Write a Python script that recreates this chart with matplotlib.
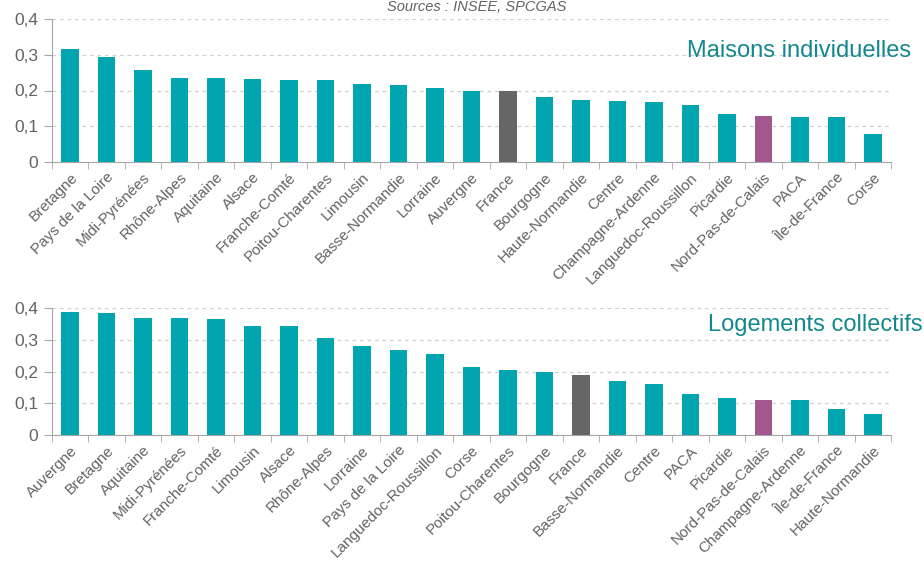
import matplotlib.pyplot as plt
from matplotlib.ticker import FixedLocator, FuncFormatter

plt.rcParams['font.family'] = ['Liberation Sans', 'DejaVu Sans']

# Maisons individuelles
regions_maisons = ["Bretagne", "Pays de la Loire", "Midi-Pyrénées", "Rhône-Alpes",
                   "Aquitaine", "Alsace", "Franche-Comté", "Poitou-Charentes",
                   "Limousin", "Basse-Normandie", "Lorraine", "Auvergne", "France",
                   "Bourgogne", "Haute-Normandie", "Centre", "Champagne-Ardenne",
                   "Languedoc-Roussillon", "Picardie", "Nord-Pas-de-Calais", "PACA",
                   "Île-de-France", "Corse"]
valeurs_maisons = [0.316, 0.295, 0.256, 0.236, 0.234, 0.231, 0.230, 0.229, 0.217,
                   0.215, 0.206, 0.200, 0.200, 0.183, 0.174, 0.171, 0.168, 0.160,
                   0.135, 0.130, 0.127, 0.125, 0.077]

# Logements collectifs
regions_collectifs = ["Auvergne", "Bretagne", "Aquitaine", "Midi-Pyrénées",
                      "Franche-Comté", "Limousin", "Alsace", "Rhône-Alpes", "Lorraine",
                      "Pays de la Loire", "Languedoc-Roussillon", "Corse",
                      "Poitou-Charentes", "Bourgogne", "France", "Basse-Normandie",
                      "Centre", "PACA", "Picardie", "Nord-Pas-de-Calais",
                      "Champagne-Ardenne", "Île-de-France", "Haute-Normandie"]
valeurs_collectifs = [0.388, 0.385, 0.369, 0.368, 0.366, 0.344, 0.344, 0.304, 0.279,
                      0.267, 0.254, 0.215, 0.205, 0.199, 0.189, 0.170, 0.161, 0.130,
                      0.117, 0.110, 0.109, 0.083, 0.067]

TEAL = '#00A5B0'
GRIS = '#666666'
VIOLET = '#A2578F'
TEXTE = '#636363'
AXE = '#A6A6A6'


def couleur(region):
    if region == "France":
        return GRIS
    if region == "Nord-Pas-de-Calais":
        return VIOLET
    return TEAL


def dessine(ax, regions, valeurs):
    x = range(len(regions))
    ax.bar(x, valeurs, width=0.48, color=[couleur(r) for r in regions], zorder=3)
    ax.set_xlim(-0.5, len(regions) - 0.5)
    ax.set_ylim(0, 0.4)
    ax.set_yticks([0, 0.1, 0.2, 0.3, 0.4])
    ax.yaxis.set_major_formatter(FuncFormatter(
        lambda v, p: '0' if v == 0 else ('%.1f' % v).replace('.', ',')))
    ax.set_xticks(list(x))
    ax.set_xticklabels(regions, rotation=45, ha='right', rotation_mode='anchor',
                       fontsize=11, color=TEXTE)
    ax.xaxis.set_minor_locator(FixedLocator([i - 0.5 for i in range(len(regions) + 1)]))
    ax.tick_params(axis='x', which='major', length=0, pad=6)
    ax.tick_params(axis='x', which='minor', length=5, color=AXE)
    ax.tick_params(axis='y', length=6, color=AXE, labelsize=12.5, labelcolor=TEXTE, pad=4)
    ax.grid(axis='y', color='#D0D0D0', linestyle=(0, (3, 3)), linewidth=0.9, zorder=0)
    for s in ['top', 'right']:
        ax.spines[s].set_visible(False)
    for s in ['left', 'bottom']:
        ax.spines[s].set_color(AXE)


fig = plt.figure(figsize=(9.24, 5.65), dpi=100)
ax1 = fig.add_axes([52 / 924, 1 - 162 / 565, 839 / 924, 143 / 565])
ax2 = fig.add_axes([52 / 924, 1 - 435 / 565, 839 / 924, 127 / 565])

dessine(ax1, regions_maisons, valeurs_maisons)
dessine(ax2, regions_collectifs, valeurs_collectifs)

fig.text(911 / 924, 1 - 57 / 565, "Maisons individuelles", ha='right', va='baseline',
         fontsize=17, color='#13878D')
fig.text(923 / 924, 1 - 331 / 565, "Logements collectifs", ha='right', va='baseline',
         fontsize=17, color='#13878D')
fig.text(477 / 924, 1 - 11 / 565, "Sources : INSEE, SPCGAS", ha='center', va='baseline',
         fontsize=10.5, style='italic', color=TEXTE)

fig.savefig('out.png', dpi=100)
